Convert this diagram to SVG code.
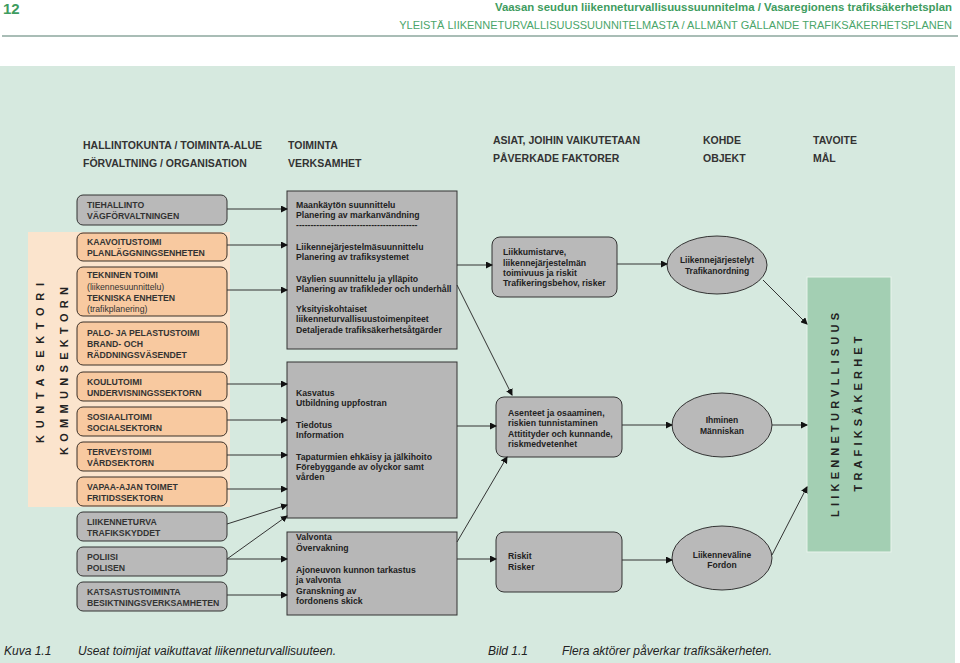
<svg xmlns="http://www.w3.org/2000/svg" width="960" height="663" viewBox="0 0 960 663">
<defs>
<marker id="ah" markerWidth="7" markerHeight="7" refX="6" refY="3.5" orient="auto" markerUnits="userSpaceOnUse">
<path d="M0,0 L7,3.5 L0,7 Z" fill="#111"/>
</marker>
<style>
.hd{font-family:"Liberation Sans",Arial,sans-serif;font-size:10.5px;font-weight:bold;fill:#333}
.bt{font-family:"Liberation Sans",Arial,sans-serif;font-size:8.7px;font-weight:bold;fill:#333}
.bn{font-family:"Liberation Sans",Arial,sans-serif;font-size:8.7px;fill:#333}
.mt{font-family:"Liberation Sans",Arial,sans-serif;font-size:8.7px;font-weight:bold;fill:#222}
.et{font-family:"Liberation Sans",Arial,sans-serif;font-size:8.5px;font-weight:bold;fill:#222;text-anchor:middle}
.vt{font-family:"Liberation Sans",Arial,sans-serif;font-size:11px;font-weight:bold;fill:#222;text-anchor:middle}
.cap{font-family:"Liberation Sans",Arial,sans-serif;font-size:12px;font-style:italic;fill:#222}
.pb{fill:#f8c9a0;stroke:#3b3028;stroke-width:1}
.gb{fill:#b9b9b9;stroke:#333;stroke-width:1}
.mb{fill:#b7b7b7;stroke:#333;stroke-width:1}
.cn line{stroke:#333;stroke-width:1;marker-end:url(#ah)}
</style>
</defs>
<rect x="0" y="0" width="960" height="663" fill="#fff"/>
<rect x="0" y="66" width="955" height="597" fill="#d6e9df"/>
<!-- page header -->
<text x="3" y="14" style="font-family:'Liberation Sans',Arial,sans-serif;font-size:15px;font-weight:bold;fill:#3f9c60">12</text>
<text x="952" y="11" text-anchor="end" style="font-family:'Liberation Sans',Arial,sans-serif;font-size:11.4px;font-weight:bold;fill:#3f9c60">Vaasan seudun liikenneturvallisuussuunnitelma / Vasaregionens trafiksäkerhetsplan</text>
<text x="952" y="29" text-anchor="end" style="font-family:'Liberation Sans',Arial,sans-serif;font-size:11px;fill:#4aa56a">YLEISTÄ LIIKENNETURVALLISUUSSUUNNITELMASTA / ALLMÄNT GÄLLANDE TRAFIKSÄKERHETSPLANEN</text>
<line x1="2" y1="36" x2="958" y2="36" stroke="#a9bdb6" stroke-width="2"/>
<!-- column headers -->
<g id="headers">
<text class="hd" x="83" y="149">HALLINTOKUNTA / TOIMINTA-ALUE</text>
<text class="hd" x="83" y="167">FÖRVALTNING / ORGANISATION</text>
<text class="hd" x="288" y="149">TOIMINTA</text>
<text class="hd" x="288" y="167">VERKSAMHET</text>
<text class="hd" x="493" y="144">ASIAT, JOIHIN VAIKUTETAAN</text>
<text class="hd" x="493" y="162">PÅVERKADE FAKTORER</text>
<text class="hd" x="703" y="144">KOHDE</text>
<text class="hd" x="703" y="162">OBJEKT</text>
<text class="hd" x="813" y="144">TAVOITE</text>
<text class="hd" x="813" y="162">MÅL</text>
</g>
<!-- municipal sector panel -->
<g id="kuntasektori">
<rect x="28" y="232" width="202" height="275" fill="#fbe4cd"/>
<text class="vt" transform="translate(44,363) rotate(-90)" textLength="160" lengthAdjust="spacing">KUNTASEKTORI</text>
<text class="vt" transform="translate(68,371) rotate(-90)" textLength="168" lengthAdjust="spacing">KOMMUNSEKTORN</text>
</g>
<!-- left boxes -->
<g id="tiehallinto"><rect class="gb" x="77" y="195" width="150" height="30" rx="6"/>
<text class="bt" x="87" y="208">TIEHALLINTO</text><text class="bt" x="87" y="219">VÄGFÖRVALTNINGEN</text></g>
<g id="kaavoitus"><rect class="pb" x="77" y="233" width="150" height="28" rx="6"/>
<text class="bt" x="87" y="245">KAAVOITUSTOIMI</text><text class="bt" x="87" y="256">PLANLÄGGNINGSENHETEN</text></g>
<g id="tekninen"><rect class="pb" x="77" y="267" width="150" height="49" rx="6"/>
<text class="bt" x="87" y="278">TEKNINEN TOIMI</text><text class="bn" x="87" y="290">(liikennesuunnittelu)</text>
<text class="bt" x="87" y="301">TEKNISKA ENHETEN</text><text class="bn" x="87" y="312">(trafikplanering)</text></g>
<g id="palo"><rect class="pb" x="77" y="322" width="150" height="43" rx="6"/>
<text class="bt" x="87" y="336">PALO- JA PELASTUSTOIMI</text><text class="bt" x="87" y="347">BRAND- OCH</text>
<text class="bt" x="87" y="358">RÄDDNINGSVÄSENDET</text></g>
<g id="koulu"><rect class="pb" x="77" y="372" width="150" height="29" rx="6"/>
<text class="bt" x="87" y="385">KOULUTOIMI</text><text class="bt" x="87" y="396">UNDERVISNINGSSEKTORN</text></g>
<g id="sosiaali"><rect class="pb" x="77" y="407" width="150" height="29" rx="6"/>
<text class="bt" x="87" y="420">SOSIAALITOIMI</text><text class="bt" x="87" y="431">SOCIALSEKTORN</text></g>
<g id="terveys"><rect class="pb" x="77" y="442" width="150" height="29" rx="6"/>
<text class="bt" x="87" y="455">TERVEYSTOIMI</text><text class="bt" x="87" y="466">VÅRDSEKTORN</text></g>
<g id="vapaa"><rect class="pb" x="77" y="477" width="150" height="29" rx="6"/>
<text class="bt" x="87" y="490">VAPAA-AJAN TOIMET</text><text class="bt" x="87" y="501">FRITIDSSEKTORN</text></g>
<g id="liikenneturva"><rect class="gb" x="77" y="512" width="150" height="29" rx="6"/>
<text class="bt" x="87" y="525">LIIKENNETURVA</text><text class="bt" x="87" y="536">TRAFIKSKYDDET</text></g>
<g id="poliisi"><rect class="gb" x="77" y="547" width="150" height="29" rx="6"/>
<text class="bt" x="87" y="560">POLIISI</text><text class="bt" x="87" y="571">POLISEN</text></g>
<g id="katsastus"><rect class="gb" x="77" y="582" width="150" height="29" rx="6"/>
<text class="bt" x="87" y="595">KATSASTUSTOIMINTA</text><text class="bt" x="87" y="606">BESIKTNINGSVERKSAMHETEN</text></g>
<!-- middle boxes -->
<g id="suunnittelu"><rect class="mb" x="287" y="191" width="170" height="158"/>
<text class="mt" x="296" y="208">Maankäytön suunnittelu</text>
<text class="mt" x="296" y="218">Planering av markanvändning</text>
<text class="mt" x="296" y="228">------------------------------------------</text>
<text class="mt" x="296" y="250">Liikennejärjestelmäsuunnittelu</text>
<text class="mt" x="296" y="260">Planering av trafiksystemet</text>
<text class="mt" x="296" y="282">Väylien suunnittelu ja ylläpito</text>
<text class="mt" x="296" y="292">Planering av trafikleder och underhåll</text>
<text class="mt" x="296" y="312">Yksityiskohtaiset</text>
<text class="mt" x="296" y="322">liikenneturvallisuustoimenpiteet</text>
<text class="mt" x="296" y="333">Detaljerade trafiksäkerhetsåtgärder</text></g>
<g id="kasvatus"><rect class="mb" x="287" y="362" width="170" height="156"/>
<text class="mt" x="296" y="396">Kasvatus</text>
<text class="mt" x="296" y="406">Utbildning uppfostran</text>
<text class="mt" x="296" y="428">Tiedotus</text>
<text class="mt" x="296" y="438">Information</text>
<text class="mt" x="296" y="460">Tapaturmien ehkäisy ja jälkihoito</text>
<text class="mt" x="296" y="470">Förebyggande av olyckor samt</text>
<text class="mt" x="296" y="480">vården</text></g>
<g id="valvonta"><rect class="mb" x="287" y="532" width="170" height="83"/>
<text class="mt" x="296" y="540">Valvonta</text>
<text class="mt" x="296" y="551">Övervakning</text>
<text class="mt" x="296" y="573">Ajoneuvon kunnon tarkastus</text>
<text class="mt" x="296" y="583">ja valvonta</text>
<text class="mt" x="296" y="594">Granskning av</text>
<text class="mt" x="296" y="604">fordonens skick</text></g>
<!-- factor boxes -->
<g id="liikkumistarve"><rect class="gb" x="492" y="237" width="125" height="60" rx="8"/>
<text class="mt" x="503" y="255">Liikkumistarve,</text>
<text class="mt" x="503" y="266">liikennejärjestelmän</text>
<text class="mt" x="503" y="276">toimivuus ja riskit</text>
<text class="mt" x="503" y="286">Trafikeringsbehov, risker</text></g>
<g id="asenteet"><rect class="gb" x="496" y="397" width="126" height="60" rx="8"/>
<text class="mt" x="508" y="416">Asenteet ja osaaminen,</text>
<text class="mt" x="508" y="426">riskien tunnistaminen</text>
<text class="mt" x="508" y="437">Attitityder och kunnande,</text>
<text class="mt" x="508" y="447">riskmedvetenhet</text></g>
<g id="riskit"><rect class="gb" x="496" y="532" width="126" height="60" rx="8"/>
<text class="mt" x="508" y="559">Riskit</text>
<text class="mt" x="508" y="570">Risker</text></g>
<!-- objects -->
<g id="liikennejarjestelyt"><ellipse class="gb" cx="717" cy="265" rx="50" ry="29"/>
<text class="et" x="717" y="263">Liikennejärjestelyt</text><text class="et" x="717" y="274">Trafikanordning</text></g>
<g id="ihminen"><ellipse class="gb" cx="722" cy="425" rx="50" ry="32"/>
<text class="et" x="722" y="423">Ihminen</text><text class="et" x="722" y="434">Människan</text></g>
<g id="liikennevaline"><ellipse class="gb" cx="722" cy="558" rx="50" ry="32"/>
<text class="et" x="722" y="558">Liikenneväline</text><text class="et" x="722" y="568">Fordon</text></g>
<!-- goal -->
<g id="liikenneturvallisuus"><rect x="807" y="277" width="84" height="275" fill="#a3cfb3" stroke="#e8f3ec" stroke-width="1"/>
<text class="vt" transform="translate(839,415) rotate(-90)" textLength="204" lengthAdjust="spacing">LIIKENNETURVLLISUUS</text>
<text class="vt" transform="translate(862,414) rotate(-90)" textLength="155" lengthAdjust="spacing">TRAFIKSÄKERHET</text></g>
<!-- connectors -->
<g id="connectors" class="cn">
<line x1="227" y1="209" x2="287" y2="209"/>
<line x1="227" y1="245" x2="287" y2="245"/>
<line x1="227" y1="290" x2="287" y2="290"/>
<line x1="227" y1="384" x2="287" y2="384"/>
<line x1="227" y1="420" x2="287" y2="420"/>
<line x1="227" y1="455" x2="287" y2="455"/>
<line x1="227" y1="489" x2="287" y2="489"/>
<line x1="227" y1="524" x2="287" y2="505"/>
<line x1="227" y1="559" x2="287" y2="516"/>
<line x1="227" y1="559" x2="287" y2="559"/>
<line x1="227" y1="595" x2="287" y2="595"/>
<line x1="457" y1="265" x2="492" y2="265"/>
<line x1="457" y1="285" x2="512" y2="395"/>
<line x1="457" y1="426" x2="496" y2="426"/>
<line x1="457" y1="542" x2="507" y2="457"/>
<line x1="457" y1="559" x2="496" y2="559"/>
<line x1="617" y1="264" x2="667" y2="264"/>
<line x1="622" y1="425" x2="672" y2="425"/>
<line x1="622" y1="560" x2="672" y2="560"/>
<line x1="763" y1="280" x2="807" y2="324"/>
<line x1="772" y1="425" x2="807" y2="425"/>
<line x1="772" y1="555" x2="807" y2="487"/>
</g>
<!-- caption -->
<g id="caption">
<text class="cap" x="4" y="655">Kuva 1.1</text>
<text class="cap" x="78" y="655">Useat toimijat vaikuttavat liikenneturvallisuuteen.</text>
<text class="cap" x="488" y="655">Bild 1.1</text>
<text class="cap" x="562" y="655">Flera aktörer påverkar trafiksäkerheten.</text>
</g>
</svg>
